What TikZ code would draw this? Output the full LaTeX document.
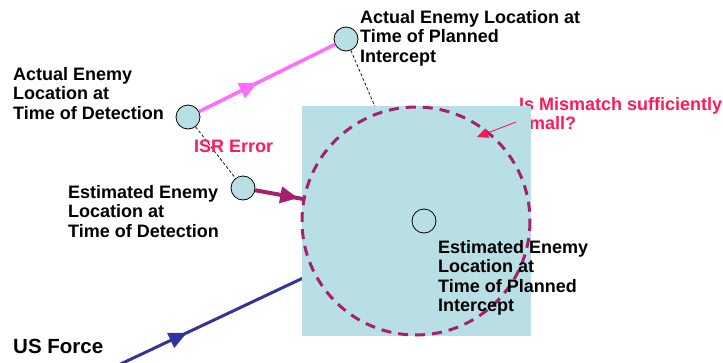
\documentclass[tikz,border=0pt]{standalone}
\usepackage{fontspec}
\setmainfont{Liberation Sans}
\usetikzlibrary{arrows.meta,decorations.markings}
\definecolor{lblue}{RGB}{184,223,227}
\definecolor{dmag}{RGB}{163,33,111}
\definecolor{pinkl}{RGB}{255,108,255}
\definecolor{navyc}{RGB}{51,51,153}
\definecolor{redt}{RGB}{255,26,85}
\begin{document}
\begin{tikzpicture}[x=1pt,y=-1pt,
  lbl/.style={anchor=base west, inner sep=0, align=left, font=\bfseries\fontsize{18}{19.6}\selectfont},
  pt/.style={circle, draw=black, line width=0.8pt, fill=lblue, minimum size=24pt, inner sep=0},
  midarrow/.style={postaction={decorate}, decoration={markings, mark=at position #1 with {\arrow{Triangle[length=18pt,width=16pt]}}}},
  thindash/.style={draw=black, line width=0.7pt, dash pattern=on 3pt off 2pt}
]
\useasboundingbox (0,0) rectangle (723,362);
% text partly hidden by the zone (anchor = baseline of last line)
\node[lbl, text=redt] (q) at (519,129.6) {Is Mismatch sufficiently\\small?};
\coordinate (sc) at (424,221);
\coordinate (usf) at (110,369);
\node[pt] (b) at (346,39) {};
\draw[thindash] (b) -- (sc);
\draw[navyc, line width=3pt, midarrow=0.245] (usf) -- (sc);
% zone
\fill[lblue] (302,106) rectangle (531,336);
\draw[dmag, line width=3pt, dash pattern=on 10pt off 7pt] (416,221) circle (114);
\node[circle, draw=black, line width=0.8pt, minimum size=24pt, inner sep=0] (s) at (sc) {};
% points
\node[pt] (a) at (188,117) {};
\node[pt] (c) at (243,188) {};
\coordinate (ce) at (303,199);
\draw[thindash] (a) -- (c);
\draw[pinkl, line width=3.5pt, midarrow=0.43] (a) -- (b);
\draw[dmag, line width=4pt, midarrow=0.9] (c) -- (ce);
\coordinate (qs) at (516,122);
\coordinate (qe) at (477,137);
\draw[redt, line width=0.9pt, -{Triangle[length=11pt,width=10pt]}] (qs) -- (qe);
% labels (anchor = baseline of last line)
\node[lbl] (la) at (13,119.2) {Actual Enemy\\Location at\\Time of Detection};
\node[lbl] (lb) at (360,62.4) {Actual Enemy Location at\\Time of Planned\\Intercept};
\node[lbl, text=redt] (isr) at (194,152) {ISR Error};
\node[lbl] (lc) at (68,237.4) {Estimated Enemy\\Location at\\Time of Detection};
\node[lbl] (ls) at (438,311.8) {Estimated Enemy\\Location at\\Time of Planned\\Intercept};
\node[anchor=base west, inner sep=0, font=\bfseries\fontsize{20.5}{22}\selectfont] (us) at (13,353) {US Force};
\end{tikzpicture}
\end{document}
